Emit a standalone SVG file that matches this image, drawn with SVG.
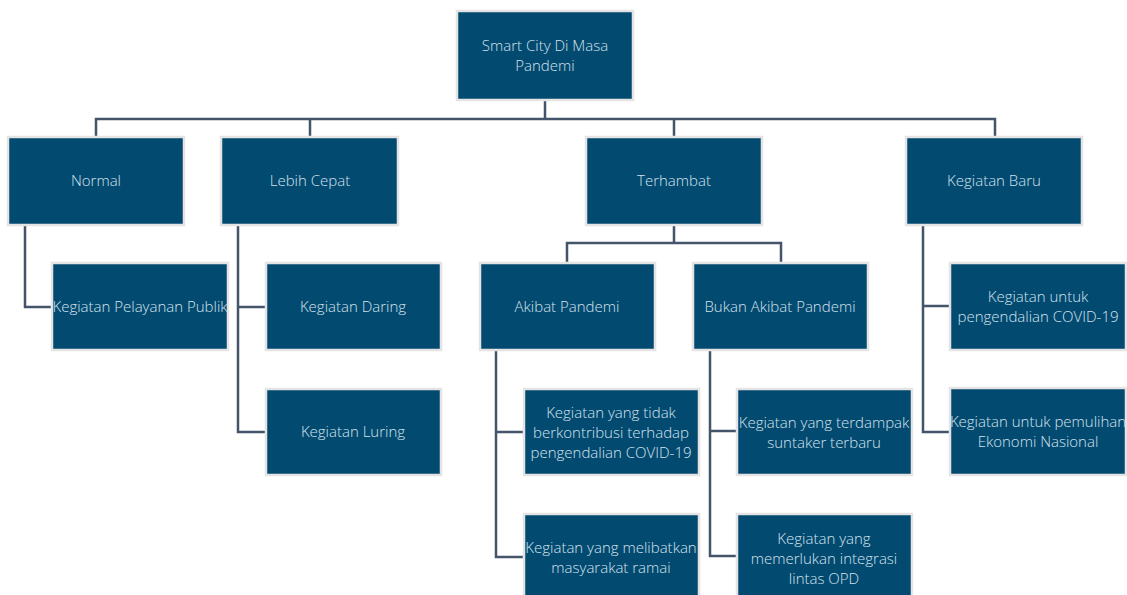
<svg xmlns="http://www.w3.org/2000/svg" width="1127" height="595" viewBox="0 0 1127 595">
<style>
.n rect{fill:#034a71;stroke:#e4e4e4;stroke-width:2.5}
.n text{fill:#d3e2ec;font-family:"Open Sans","Segoe UI",sans-serif;font-weight:300;font-size:15px;text-anchor:middle}
.c path{fill:none;stroke:#44546a;stroke-width:2.5}
</style>
<rect width="1127" height="595" fill="#ffffff"/>
<g class="c">
<path d="M545 100V119M96 137V119H995V137M310 119V137M674 119V137"/>
<path d="M25 226V307H53"/>
<path d="M238 226V432H266M238 307H266"/>
<path d="M674 225V243M567 263V243H781V263"/>
<path d="M496 351V557H524M496 432H524"/>
<path d="M710 351V556H737M710 431H737"/>
<path d="M923 226V432H950M923 306H950"/>
</g>
<g id="root" class="n"><rect x="457" y="11" width="176" height="89"/><text x="545" y="51">Smart City Di Masa</text><text x="545" y="71">Pandemi</text></g>
<g id="normal" class="n"><rect x="8" y="137" width="176" height="88"/><text x="96" y="186">Normal</text></g>
<g id="lebih" class="n"><rect x="221" y="137" width="177" height="88"/><text x="310" y="186">Lebih Cepat</text></g>
<g id="terhambat" class="n"><rect x="586" y="137" width="176" height="88"/><text x="674" y="186">Terhambat</text></g>
<g id="baru" class="n"><rect x="906" y="137" width="176" height="88"/><text x="994" y="186">Kegiatan Baru</text></g>
<g id="pelayanan" class="n"><rect x="52" y="263" width="176" height="87"/><text x="140" y="312">Kegiatan Pelayanan Publik</text></g>
<g id="daring" class="n"><rect x="266" y="263" width="175" height="87"/><text x="353" y="312">Kegiatan Daring</text></g>
<g id="luring" class="n"><rect x="266" y="389" width="175" height="86"/><text x="353" y="437">Kegiatan Luring</text></g>
<g id="akibat" class="n"><rect x="480" y="263" width="175" height="87"/><text x="567" y="312">Akibat Pandemi</text></g>
<g id="bukan" class="n"><rect x="693" y="263" width="175" height="87"/><text x="780" y="312">Bukan Akibat Pandemi</text></g>
<g id="tidak" class="n"><rect x="524" y="389" width="175" height="86"/><text x="611" y="418">Kegiatan yang tidak</text><text x="611" y="438">berkontribusi terhadap</text><text x="611" y="458">pengendalian COVID-19</text></g>
<g id="ramai" class="n"><rect x="524" y="514" width="175" height="86"/><text x="611" y="553">Kegiatan yang melibatkan</text><text x="611" y="573">masyarakat ramai</text></g>
<g id="suntaker" class="n"><rect x="737" y="389" width="175" height="86"/><text x="824" y="428">Kegiatan yang terdampak</text><text x="824" y="448">suntaker terbaru</text></g>
<g id="opd" class="n"><rect x="737" y="514" width="175" height="86"/><text x="824" y="544">Kegiatan yang</text><text x="824" y="564">memerlukan integrasi</text><text x="824" y="584">lintas OPD</text></g>
<g id="covid" class="n"><rect x="950" y="263" width="176" height="87"/><text x="1038" y="302">Kegiatan untuk</text><text x="1038" y="322">pengendalian COVID-19</text></g>
<g id="pen" class="n"><rect x="950" y="388" width="176" height="87"/><text x="1038" y="427">Kegiatan untuk pemulihan</text><text x="1038" y="447">Ekonomi Nasional</text></g>
</svg>
